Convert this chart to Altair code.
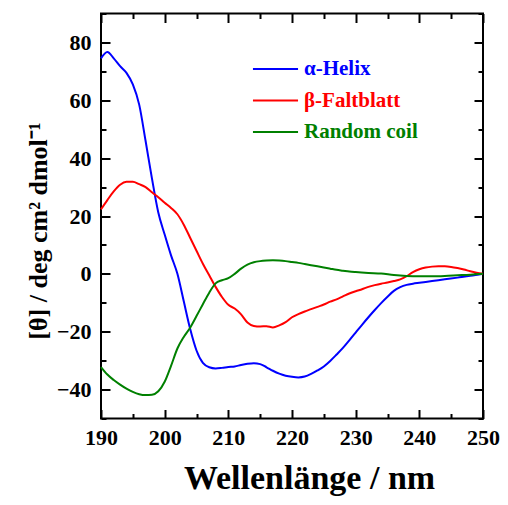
import altair as alt
import pandas as pd

# ---- data ----
wl_helix = [190,191,192,193,194,195,196,197,198,199,200,201,202,203,204,205,206,207,208,209,
            210,211,212,213,214,215,216,217,218,219,220,221,222,223,224,225,226,227,228,229,
            230,231,232,233,234,235,236,237,238,239,240,242,244,246,248,250]
helix = [74.5,76.7,74.5,71.8,69.5,65.5,58.5,46,33,21.2,13.6,6.4,0,-9.5,-19,-26.5,-30.8,-32.3,-32.7,-32.5,
         -32.2,-32.0,-31.5,-31.1,-30.9,-31.2,-32.3,-33.5,-34.5,-35.2,-35.6,-35.8,-35.5,-34.6,-33.4,-32.0,-30.1,-27.9,-25.6,-23.0,
         -20.3,-17.6,-15.0,-12.5,-10.1,-7.9,-5.9,-4.6,-3.8,-3.4,-3.1,-2.5,-1.9,-1.3,-0.7,0]

wl_beta = list(range(190, 251))
beta = [22.3,25.5,28.5,30.8,31.8,31.8,31.0,30.0,28.2,26.5,24.6,22.8,20.6,17.0,12.5,8.0,3.5,-0.5,-4.5,-8.0,
        -10.7,-12.0,-14.0,-16.8,-18.0,-18.2,-18.1,-18.5,-17.8,-16.7,-15.0,-13.9,-13.0,-12.2,-11.4,-10.6,-9.6,-8.8,-7.8,-6.8,
        -6.0,-5.3,-4.5,-3.9,-3.4,-3.0,-2.5,-1.9,-0.8,0.6,1.6,2.2,2.5,2.6,2.6,2.4,2.0,1.5,0.9,0.4,0]

wl_coil = [190,191,192,193,194,195,196,197,198,199,200,201,202,203,204,205,206,207,208,209,
           210,211,212,213,214,215,216,217,218,219,220,221,222,223,224,225,226,227,228,229,
           230,232,234,236,238,240,242,244,246,248,250]
coil = [-32.2,-34.8,-36.7,-38.3,-39.7,-40.8,-41.6,-41.9,-41.8,-40.6,-37.3,-31.8,-25.8,-21.8,-18.6,-14.6,-10.5,-6.5,-3.3,-2.2,
        -1.5,0.0,1.8,3.2,4.0,4.4,4.6,4.7,4.6,4.4,4.1,3.8,3.4,3.0,2.6,2.2,1.8,1.4,1.1,0.8,
        0.6,0.3,0.1,-0.4,-0.7,-0.8,-0.8,-0.7,-0.5,-0.3,0]

series_names = ["α-Helix", "β-Faltblatt", "Random coil"]
series_colors = ["#0000ff", "#ff0000", "#008000"]

x_major = [190, 200, 210, 220, 230, 240, 250]
x_minor = [195, 205, 215, 225, 235, 245]
y_major = [-40, -20, 0, 20, 40, 60, 80]
y_minor = [-50, -30, -10, 10, 30, 50, 70, 90]

rows = []
for name, xs, ys in zip(series_names, [wl_helix, wl_beta, wl_coil], [helix, beta, coil]):
    for a, b in zip(xs, ys):
        rows.append({"x": a, "y": b, "s": name})
df = pd.DataFrame(rows)

W, H = 382, 405
FONT = "Liberation Serif"

xs = alt.Scale(domain=[190, 250], nice=False, zero=False)
ys = alt.Scale(domain=[-50, 90], nice=False, zero=False)

label_color_expr = ("datum.label == 'α-Helix' ? '#0000ff' : "
                    "(datum.label == 'β-Faltblatt' ? '#ff0000' : '#008000')")

lines = alt.Chart(df).mark_line(strokeWidth=2, interpolate="monotone").encode(
    x=alt.X("x:Q", scale=xs, axis=alt.Axis(
        orient="bottom", values=x_major, ticks=False, tickSize=0, domain=False, grid=False,
        labelPadding=9, labelFont=FONT, labelFontSize=22, labelFontWeight="bold",
        labelColor="black", format="d", labelFlush=False,
        title="Wellenlänge / nm", titleFont=FONT, titleFontSize=34, titleFontWeight="bold",
        titleColor="black", titleX=208, titleY=70, titleBaseline="alphabetic", titleAnchor="middle")),
    y=alt.Y("y:Q", scale=ys, axis=alt.Axis(
        orient="left", values=y_major, ticks=False, tickSize=0, domain=False, grid=False,
        labelPadding=10, labelFont=FONT, labelFontSize=22, labelFontWeight="bold",
        labelColor="black", format="d", labelFlush=False,
        title="[θ] / deg cm² dmol⁻¹", titleFont=FONT, titleFontSize=26, titleFontWeight="bold",
        titleColor="black", titleAngle=270, titleX=-63, titleY=217, titleAlign="center",
        titleBaseline="middle")),
    color=alt.Color("s:N", scale=alt.Scale(domain=series_names, range=series_colors),
                    legend=alt.Legend(
                        title=None, orient="none", legendX=163, legendY=44,
                        symbolType="M-2.2,0H2.2", symbolSize=420, symbolStrokeWidth=2,
                        labelOffset=17, rowPadding=9.5, padding=0,
                        labelFont=FONT, labelFontSize=21, labelFontWeight="bold",
                        labelColor=alt.ExprRef(label_color_expr))),
)


def tick_layer(xvals, yvals, size, x_orient, x_off, y_orient, y_off):
    return alt.Chart(df).mark_point(opacity=0).encode(
        x=alt.X("x:Q", scale=xs, axis=alt.Axis(
            orient=x_orient, offset=x_off, values=xvals, labels=False, domain=False,
            grid=False, ticks=True, tickSize=size, tickWidth=2, tickColor="black", title=None)),
        y=alt.Y("y:Q", scale=ys, axis=alt.Axis(
            orient=y_orient, offset=y_off, values=yvals, labels=False, domain=False,
            grid=False, ticks=True, tickSize=size, tickWidth=2, tickColor="black", title=None)),
    )


t1 = tick_layer(x_major, y_major, 9, "top", -H, "right", -W)   # bottom / left, major inward
t2 = tick_layer(x_minor, y_minor, 5, "top", -H, "right", -W)   # bottom / left, minor inward
t3 = tick_layer(x_major, y_major, 9, "bottom", -H, "left", -W)  # top / right, major inward
t4 = tick_layer(x_minor, y_minor, 5, "bottom", -H, "left", -W)  # top / right, minor inward

chart = alt.layer(lines, t1, t2, t3, t4).resolve_axis(
    x="independent", y="independent"
).properties(
    width=W, height=H,
    autosize=alt.AutoSizeParams(type="none"),
    padding={"left": 93, "top": 5.5, "right": 17, "bottom": 78},
).configure_view(
    stroke="black", strokeWidth=2
).configure_axis(grid=False)

chart.save("out.html", embed_options={"renderer": "svg", "actions": False})
